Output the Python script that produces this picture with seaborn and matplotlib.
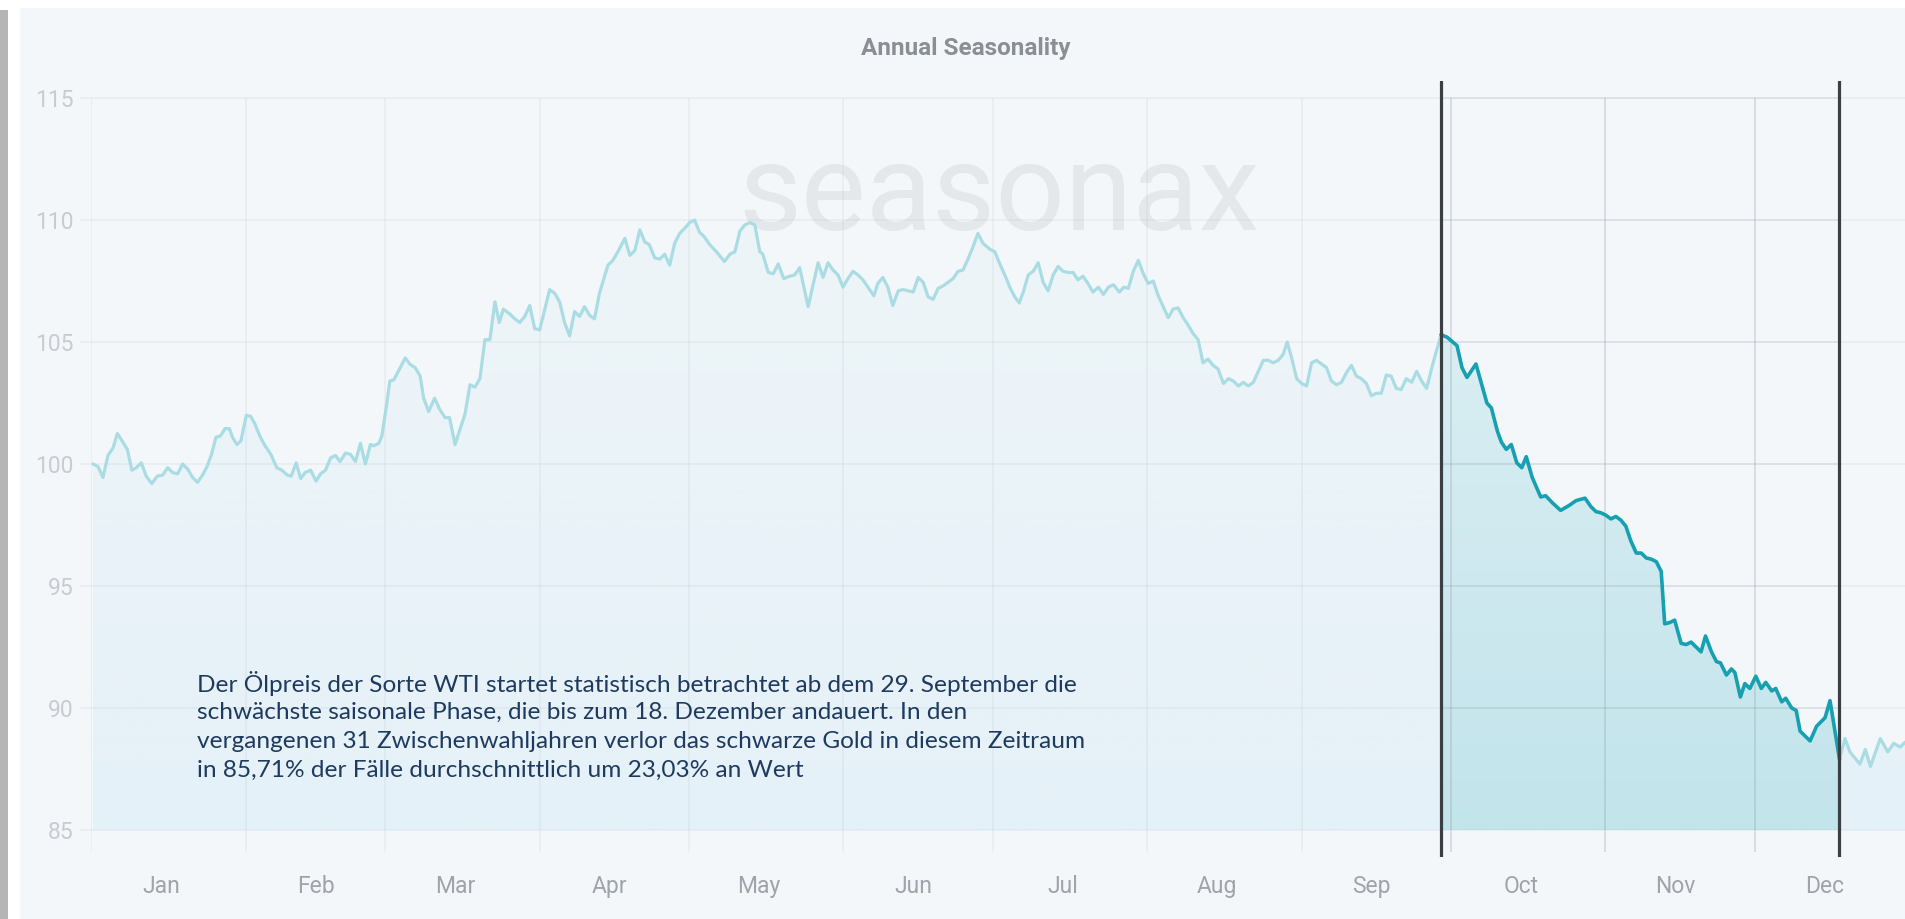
import numpy as np
import pandas as pd
import matplotlib
matplotlib.use("Agg")
import matplotlib.pyplot as plt
import matplotlib.colors as mcolors
from matplotlib.patches import Rectangle
import seaborn as sns

# ---------------- data ----------------
title = "Annual Seasonality"
month_labels = ["Jan", "Feb", "Mar", "Apr", "May", "Jun",
                "Jul", "Aug", "Sep", "Oct", "Nov", "Dec"]
month_label_days = [14, 45, 73, 104, 134, 165, 195, 226, 257, 287, 318, 348]
month_start_days = [0, 31, 59, 90, 120, 151, 181, 212, 243, 273, 304, 334]
y_ticks = [85, 90, 95, 100, 105, 110, 115]
window_start_day = 271   # 29 Sep
window_end_day = 351     # 18 Dec

days = [
    0.3, 1.3, 2.3, 3.3, 4.3, 5.2, 6.3, 7.2, 8.1, 9.0, 10.0, 11.0, 12.1, 13.2, 14.3,
    15.3, 16.3, 17.3, 18.3, 19.3, 20.3, 21.3, 22.3, 23.2, 24.1, 25.0, 25.9, 26.8,
    27.7, 28.3, 29.2, 30.0, 31.1, 32.0, 32.8, 33.8, 34.7, 36.0, 37.2, 38.2, 39.3,
    40.1, 41.1, 42.0, 42.9, 44.0, 45.1, 46.0, 47.0, 48.0, 49.0, 49.9, 51.0, 52.0,
    53.0, 54.0, 55.0, 56.0, 56.7, 57.7, 58.3, 59.2, 59.9, 60.7, 62.0, 63.0, 63.9,
    65.0, 66.0, 66.7, 67.7, 68.9, 69.9, 71.0, 71.9, 73.0, 75.0, 76.0, 77.0, 78.0,
    79.0, 80.0, 81.0, 81.9, 82.7, 84.0, 85.0, 86.0, 87.0, 88.0, 89.0, 90.0,
    92.0, 93.0, 94.0, 95.0, 96.0, 97.0, 98.0, 99.0, 100.0, 101.0, 102.0, 103.7,
    104.7, 105.7, 107.1, 108.1, 109.1, 110.1, 111.1, 112.0, 113.1, 114.1, 115.1,
    116.1, 117.1, 118.1, 119.5, 120.1, 121.1, 122.1, 123.1, 124.1, 125.5, 127.1,
    128.2, 129.2, 130.2, 131.2, 132.2, 133.2, 134.2, 134.8, 135.9, 136.9, 137.9,
    139.0, 140.2, 141.2, 142.2, 143.9, 145.9, 146.9, 147.9, 148.9, 149.9, 150.9,
    151.9, 152.9, 153.9, 154.9, 155.9, 157.1, 157.9, 158.9, 159.9, 160.9, 162.0,
    163.0, 164.0, 165.0, 166.0, 167.0, 168.0, 169.0, 170.0, 171.0, 172.0, 173.0,
    174.0, 175.0, 176.0, 177.0, 178.0, 179.0, 180.4,
    181.4, 182.4, 183.4, 184.4, 185.4, 186.3, 187.1, 188.1, 189.1, 190.1, 191.1,
    192.1, 193.1, 194.1, 195.1, 196.1, 197.1, 198.1, 199.1, 200.1, 201.1, 202.2,
    203.2, 204.2, 205.2, 206.4, 207.3, 208.2, 209.2, 210.2, 211.2, 212.2, 213.2,
    214.2, 215.2, 216.2, 217.2, 218.2, 219.2, 220.2, 221.2, 222.2, 223.2, 224.2,
    225.2, 226.2, 227.3, 228.3, 229.3, 230.3, 231.3, 232.3, 233.3, 234.3, 235.3,
    236.3, 237.3, 238.3, 239.3, 240.1, 241.0, 242.0, 243.0, 244.0, 245.0, 246.0,
    247.0, 248.0, 249.0, 250.0, 251.0, 252.0, 253.0, 254.0, 255.0, 256.0, 257.0,
    258.0, 259.0, 260.0, 261.0, 262.0, 263.0, 264.0, 265.1, 266.1, 267.1, 268.1,
    269.4, 271.0,
    272.2, 274.2, 275.2, 276.2, 278.0, 280.2, 281.1, 282.3, 283.1, 284.1, 285.1,
    286.2, 287.2, 288.1, 289.3, 291.0, 292.0, 293.4, 295.0, 296.7, 298.1, 299.9,
    301.1, 302.1, 303.1, 304.1, 305.1, 306.1, 307.1, 308.1, 309.1, 310.2, 311.2,
    312.2, 313.2, 314.2, 315.2, 315.9, 316.9, 317.9, 319.2, 320.2, 321.2, 322.2,
    323.2, 324.1, 325.3, 326.3, 327.1, 328.3, 329.3, 330.0, 331.1, 332.0, 333.0,
    334.2, 335.3, 336.2, 337.4, 338.2, 339.4, 340.2, 341.4, 342.3, 343.1, 345.1,
    346.4, 348.1, 349.1, 351.0,
    352.1, 353.1, 355.1, 356.2, 357.2, 359.2, 360.7, 361.9, 363.2, 364.2,
]

index_values = [
    100.0, 99.9, 99.45, 100.35, 100.65, 101.25, 100.9, 100.6, 99.75, 99.85, 100.05,
    99.5, 99.2, 99.5, 99.55, 99.85, 99.65, 99.6, 100.0, 99.8, 99.45, 99.25, 99.55,
    99.9, 100.4, 101.1, 101.15, 101.45, 101.45, 101.1, 100.8, 100.95, 102.0, 101.95,
    101.65, 101.15, 100.8, 100.4, 99.85, 99.75, 99.55, 99.5, 100.05, 99.4, 99.65,
    99.75, 99.3, 99.6, 99.75, 100.25, 100.35, 100.1, 100.45, 100.4, 100.1, 100.85,
    100.0, 100.8, 100.75, 100.85, 101.15, 102.35, 103.4, 103.45, 103.95, 104.35,
    104.1, 103.95, 103.6, 102.7, 102.15, 102.7, 102.25, 101.9, 101.9, 100.8, 102.05,
    103.25, 103.15, 103.5, 105.1, 105.1, 106.65, 105.8, 106.35, 106.15, 105.95,
    105.8, 106.05, 106.5, 105.55, 105.5,
    107.15, 107.0, 106.65, 105.8, 105.25, 106.25, 106.05, 106.45, 106.1, 105.95,
    107.0, 108.15, 108.35, 108.7, 109.25, 108.55, 108.75, 109.6, 109.1, 109.0,
    108.45, 108.4, 108.6, 108.15, 109.05, 109.45, 109.75, 109.9, 110.0, 109.5,
    109.3, 109.0, 108.7, 108.3, 108.6, 108.7, 109.55, 109.8, 109.9, 109.8, 108.7,
    108.6, 107.85, 107.8, 108.2, 107.6, 107.7, 107.75, 108.05, 106.45, 108.25,
    107.65, 108.25, 107.95, 107.75, 107.25, 107.6, 107.9, 107.75, 107.55, 107.25,
    106.9, 107.4, 107.65, 107.25, 106.5, 107.1, 107.15, 107.1, 107.05, 107.65,
    107.45, 106.85, 106.75, 107.2, 107.3, 107.45, 107.6, 107.9, 107.95, 108.4,
    108.9, 109.45, 109.05, 108.8,
    108.7, 108.2, 107.75, 107.25, 106.85, 106.6, 107.05, 107.75, 107.9, 108.25,
    107.45, 107.1, 107.75, 108.1, 107.9, 107.85, 107.85, 107.55, 107.7, 107.4,
    107.05, 107.25, 106.95, 107.25, 107.35, 107.05, 107.25, 107.2, 107.9, 108.35,
    107.8, 107.4, 107.5, 106.9, 106.45, 106.0, 106.35, 106.4, 106.0, 105.7, 105.35,
    105.1, 104.15, 104.3, 104.05, 103.9, 103.3, 103.5, 103.4, 103.2, 103.35, 103.2,
    103.35, 103.8, 104.25, 104.25, 104.15, 104.25, 104.5, 105.0, 104.35, 103.5,
    103.3, 103.2, 104.15, 104.25, 104.1, 103.95, 103.4, 103.25, 103.35, 103.75,
    104.05, 103.6, 103.5, 103.3, 102.8, 102.9, 102.9, 103.65, 103.6, 103.1, 103.05,
    103.5, 103.35, 103.8, 103.4, 103.1, 104.15, 105.3,
    105.2, 104.85, 103.95, 103.55, 104.1, 102.5, 102.3, 101.35, 100.9, 100.6,
    100.8, 100.05, 99.85, 100.3, 99.45, 98.65, 98.7, 98.4, 98.1, 98.3, 98.5, 98.6,
    98.25, 98.05, 98.0, 97.9, 97.75, 97.85, 97.7, 97.45, 96.85, 96.35, 96.35,
    96.15, 96.1, 96.0, 95.6, 93.45, 93.5, 93.6, 92.65, 92.6, 92.7, 92.5, 92.3,
    92.95, 92.3, 91.9, 91.85, 91.35, 91.6, 91.45, 90.45, 91.0, 90.8, 91.3, 90.8,
    91.05, 90.7, 90.8, 90.25, 90.4, 90.0, 89.9, 89.05, 88.65, 89.25, 89.6, 90.3,
    87.9,
    88.75, 88.2, 87.7, 88.3, 87.6, 88.75, 88.2, 88.55, 88.4, 88.6,
]

note_lines = [
    "Der Ölpreis der Sorte WTI startet statistisch betrachtet ab dem 29. September die",
    "schwächste saisonale Phase, die bis zum 18. Dezember andauert. In den",
    "vergangenen 31 Zwischenwahljahren verlor das schwarze Gold in diesem Zeitraum",
    "in 85,71% der Fälle durchschnittlich um 23,03% an Wert",
]
watermark = "seasonax"

# ---------------- style ----------------
sns.set_theme(style="white")
label_font = ["Roboto", "DejaVu Sans"]
plt.rcParams["font.family"] = label_font

W, H = 1906, 919
fig = plt.figure(figsize=(W / 100, H / 100), dpi=100, facecolor="white")

def fx(px):
    return px / W

def fy(py):
    return 1 - py / H

# page decorations (panel + left shadow)
fig.patches.append(Rectangle((0, 0), fx(8), fy(10), transform=fig.transFigure,
                             facecolor="#B5B5B5", edgecolor="none", zorder=-10))
fig.patches.append(Rectangle((fx(20), 0), 1 - fx(20), fy(8), transform=fig.transFigure,
                             facecolor="#F4F7FA", edgecolor="none", zorder=-10))

x_left_px, x_right_px = 91.5, 1906
px_per_day = 4.98
xmin, xmax = 0, (x_right_px - x_left_px) / px_per_day
ymin, ymax = 83.9, 115.7
y_bot_px, y_top_px = 856.8, 81.0
ax = fig.add_axes([fx(x_left_px), fy(y_bot_px), fx(x_right_px - x_left_px),
                   (y_bot_px - y_top_px) / H])
ax.set_facecolor("none")
for s in ax.spines.values():
    s.set_visible(False)

df = pd.DataFrame({"day": days, "value": index_values})
in_win = (df.day >= window_start_day) & (df.day <= window_end_day)
before = df[df.day <= window_start_day]
window = df[in_win]
after = df[df.day >= window_end_day]

def gradient_fill(sub, c_top, c_bot, z):
    x = sub.day.to_numpy()
    y = sub.value.to_numpy()
    coll = ax.fill_between(x, y, 85, facecolor="none", edgecolor="none")
    t = np.linspace(0, 1, 256)[:, None]
    ct = np.array(mcolors.to_rgb(c_top))
    cb = np.array(mcolors.to_rgb(c_bot))
    img = (ct * (1 - t) + cb * t)[:, None, :]
    im = ax.imshow(img, extent=[x.min(), x.max(), 85, y.max()], aspect="auto",
                   origin="upper", zorder=z, interpolation="bilinear")
    im.set_clip_path(coll.get_paths()[0], ax.transData)

gradient_fill(df, "#EEF5F8", "#E5F1F8", 1)
gradient_fill(window, "#D9EEF3", "#C2E4EB", 2)

# gridlines
grid_c = "#9AA8B0"
ax.hlines(y_ticks, -2.3, xmax, colors=grid_c, alpha=0.12, lw=1.2, zorder=3, clip_on=False)
ax.vlines(month_start_days, 84.1, 115, colors=grid_c, alpha=0.12, lw=1.2, zorder=3)
ax.hlines(y_ticks[1:], window_start_day, window_end_day, colors=grid_c, alpha=0.22,
          lw=1.2, zorder=3)
win_months = [d for d in month_start_days if window_start_day < d < window_end_day]
ax.vlines(win_months, 84.1, 115, colors=grid_c, alpha=0.28, lw=1.2, zorder=3)

# watermark
ax.text(fx(738), fy(230), watermark, transform=fig.transFigure, fontsize=88,
        color="#E4E8EB", ha="left", va="baseline", zorder=0.5)

# lines
sns.lineplot(data=before, x="day", y="value", ax=ax, color="#A9DCE3", lw=2.3,
             estimator=None, sort=False, zorder=5)
sns.lineplot(data=after, x="day", y="value", ax=ax, color="#A9DCE3", lw=2.3,
             estimator=None, sort=False, zorder=5)
sns.lineplot(data=window, x="day", y="value", ax=ax, color="#17A0B2", lw=2.6,
             estimator=None, sort=False, zorder=6)

for d in (window_start_day, window_end_day):
    ax.axvline(d, color="#3A3F44", lw=2.3, zorder=7)

ax.set_xlim(xmin, xmax)
ax.set_ylim(ymin, ymax)
ax.set_xlabel("")
ax.set_ylabel("")
ax.set_xticks(month_label_days, month_labels)
ax.set_yticks(y_ticks, [str(v) for v in y_ticks])
ax.tick_params(axis="x", length=0, pad=13, labelsize=16.5, labelcolor="#9EA4A9")
ax.tick_params(axis="y", length=0, pad=13, labelsize=16.5, labelcolor="#C6CCD1")
ax.grid(False)

# title
fig.text(fx(966), fy(49), title, ha="center", va="center", fontsize=17.5,
         fontweight="bold", color="#8A8F94")

# note
for i, line in enumerate(note_lines):
    fig.text(fx(197), fy(684 + i * 28.8), line, ha="left", va="center",
             fontsize=17.6, color="#1E3A5F", family=["Lato", "DejaVu Sans"], zorder=10)

fig.savefig("out.png", dpi=100, facecolor="white")
